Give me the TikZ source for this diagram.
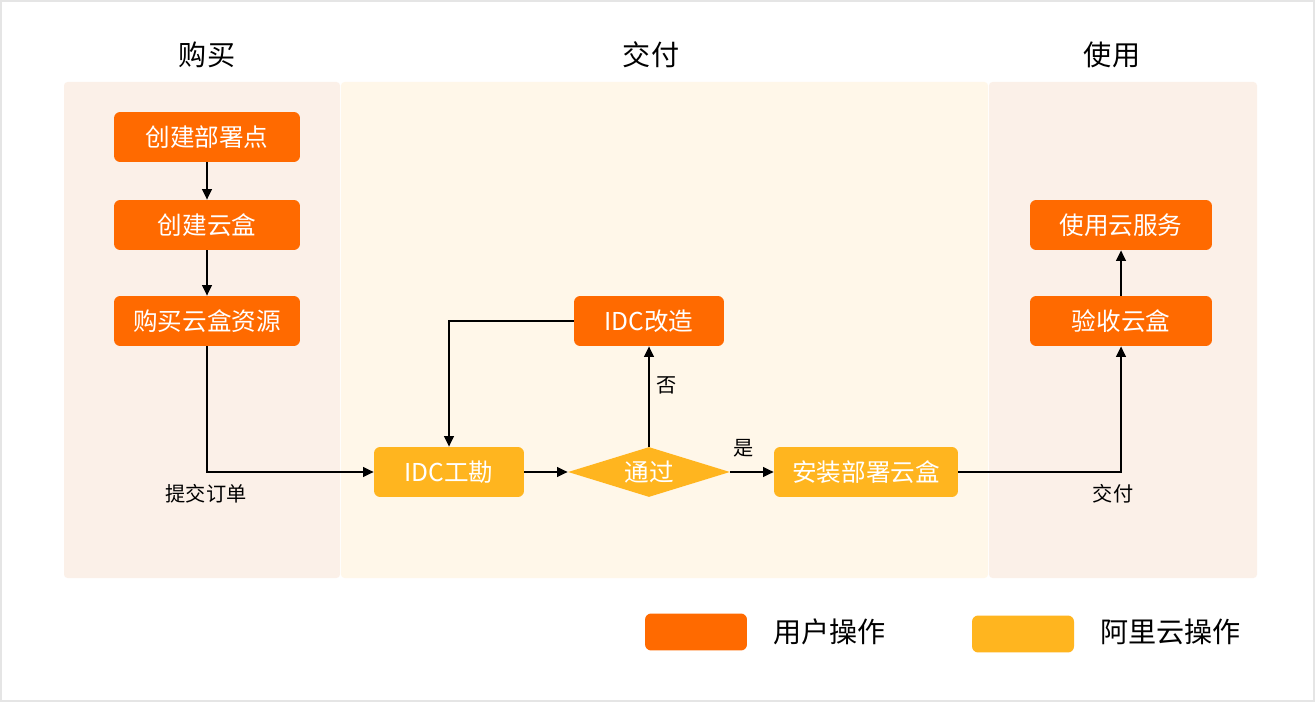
\documentclass[tikz,border=0pt]{standalone}
\usepackage{fontspec}
\setmainfont{Noto Sans CJK SC}
\usetikzlibrary{positioning, shapes.geometric, arrows.meta, calc}
\definecolor{aliorange}{HTML}{FF6A00}
\definecolor{aliyellow}{HTML}{FFB51F}
\definecolor{panelpink}{HTML}{FBF0E8}
\definecolor{panelcream}{HTML}{FFF7E9}
\definecolor{framegray}{HTML}{E5E5E5}

\begin{document}
\begin{tikzpicture}[x=0.02cm, y=-0.02cm, font=\fontsize{14}{16}\selectfont,
    userbox/.style={fill=aliorange, text=white, rounded corners=3.5pt, minimum height=1cm, inner sep=0pt},
    alibox/.style={fill=aliyellow, text=white, rounded corners=3.5pt, minimum height=1cm, inner sep=0pt},
    flow/.style={line width=1.1pt, -{Triangle[length=6pt, width=5.5pt]}},
    note/.style={font=\fontsize{11.5}{13}\selectfont},
    title/.style={font=\fontsize{16}{18}\selectfont}]
        \useasboundingbox (0,0) rectangle (1315,702);
        \draw[framegray, line width=1.2pt, fill=white] (1,1) rectangle (1314,701);
        \foreach \xa/\xb/\col in {64/340/panelpink, 341/988/panelcream, 989/1257/panelpink}
          \fill[\col, rounded corners=2pt] (\xa,82) rectangle (\xb,578);
        \node[title] (buy) at (207,55) {购买};
        \node[title] (handover) at (651,55) {交付};
        \node[title] (usage) at (1112,55) {使用};

        \node[userbox, minimum width=3.72cm] (site) at (207,137) {创建部署点};
        \node[userbox, minimum width=3.72cm] (box) at (207,225) {创建云盒};
        \node[userbox, minimum width=3.72cm] (buyres) at (207,321) {购买云盒资源};
        \node[alibox, minimum width=3cm] (survey) at (449,472) {IDC工勘};
        \node[alibox, shape=diamond, aspect=3.2, minimum width=3.24cm, rounded corners=0pt] (pass) at (649,472) {通过};
        \node[userbox, minimum width=3cm] (rework) at (649,321) {IDC改造};
        \node[alibox, minimum width=3.68cm] (install) at (866,472) {安装部署云盒};
        \node[userbox, minimum width=3.64cm] (accept) at (1121,321) {验收云盒};
        \node[userbox, minimum width=3.64cm] (use) at (1121,225) {使用云服务};

        \draw[flow] (site) -- (box);
        \draw[flow] (box) -- (buyres);
        \draw[flow] (buyres) |- (survey);
        \draw[flow] (survey) -- (pass);
        \draw[flow] (pass) -- (rework);
        \draw[flow] (rework) -| (survey);
        \draw[flow] (pass) -- (install);
        \draw[flow] (install) -| (accept);
        \draw[flow] (accept) -- (use);

        \node[note] (order) at (206,494) {提交订单};
        \node[note] (deliver) at (1113,494) {交付};
        \node[note] (no) at (667,385) {否};
        \node[note] (yes) at (744,448) {是};

        \node[userbox, minimum width=2.04cm, minimum height=0.74cm] (keyuser) at (696,632) {};
        \node[title, anchor=west, inner sep=0pt] (keyusertext) at (773,632) {用户操作};
        \node[alibox, minimum width=2.04cm, minimum height=0.74cm] (keyali) at (1023,634) {};
        \node[title, anchor=west, inner sep=0pt] (keyalitext) at (1100,632) {阿里云操作};
      \end{tikzpicture}
\end{document}
